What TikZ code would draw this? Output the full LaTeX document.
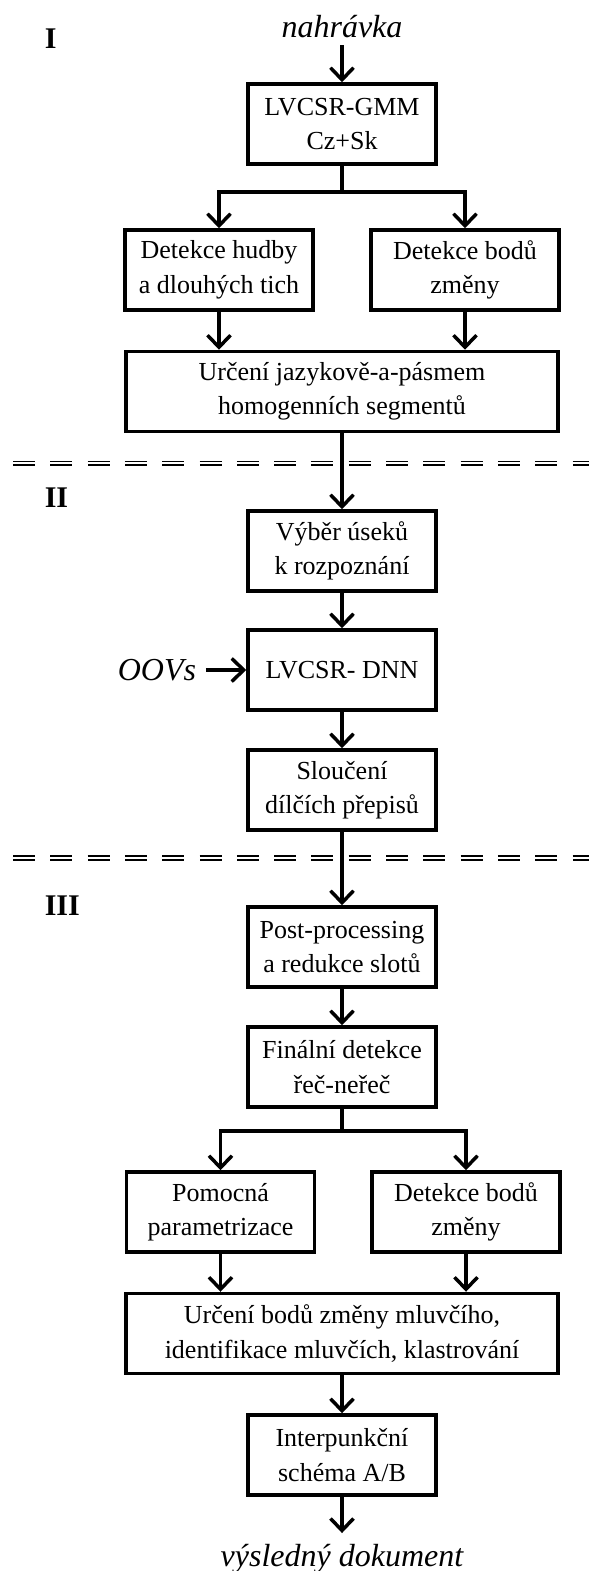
\documentclass[tikz,border=0pt]{standalone}
\usepackage{fontspec}
\setmainfont{Liberation Serif}
\usepackage{tikz}
\usetikzlibrary{positioning,arrows.meta}

\begin{document}
\begin{tikzpicture}[x=1pt,y=-1pt,on grid,line width=3.5pt,>={Straight Barb[length=12pt,width=23pt]}]
        \tikzstyle{blok}=[draw,rectangle,minimum width=188pt,minimum height=80pt,align=center,inner sep=2pt,font=\fontsize{26pt}{34.5pt}\selectfont]
        \tikzstyle{siroky}=[blok,minimum width=432pt]
        \tikzstyle{popis}=[font=\fontsize{32pt}{36pt}\selectfont\itshape]
        \tikzstyle{faze}=[anchor=west,inner sep=0pt,font=\fontsize{30pt}{30pt}\selectfont\bfseries]
        \tikzstyle{delic}=[line width=1.6pt,double,double distance=2.1pt,dash pattern=on 22pt off 15.3pt]
        \useasboundingbox (0,0) rectangle (589,1571);
        % faze
        \node[faze] (f1) at (43,38.5) {I};
        \node[faze] (f2) at (43,498) {II};
        \node[faze] (f3) at (43,906) {III};
        \draw[delic] (13,463.2) -- (589,463.2);
        \draw[delic] (13,858) -- (589,858);
        % bloky
        \node[popis,anchor=base,inner sep=5pt] (vstup) at (342,38) {nahrávka};
        \node[blok] (b1) at (342,124) {LVCSR-GMM\\Cz+Sk};
        \coordinate[below=68pt of b1] (s1);
        \node[blok] (b2L) [below left=146pt and 123pt of b1] {Detekce hudby\\a dlouhých tich};
        \node[blok] (b2R) [below right=146pt and 123pt of b1] {Detekce bodů\\změny};
        \node[siroky] (b3) [below=267.5pt of b1] {Určení jazykově-a-pásmem\\homogenních segmentů};
        \node[blok] (b4) [below=159.5pt of b3] {Výběr úseků\\k rozpoznání};
        \node[blok] (b5) [below=119pt of b4] {LVCSR- DNN};
        \node[popis,inner xsep=8pt] (oov) [left=185pt of b5] {OOVs};
        \node[blok] (b6) [below=120pt of b5] {Sloučení\\dílčích přepisů};
        \node[blok] (b7) [below=157pt of b6] {Post-processing\\a redukce slotů};
        \node[blok] (b8) [below=120pt of b7] {Finální detekce\\řeč-neřeč};
        \coordinate[below=64pt of b8] (s2);
        \node[blok] (b9L) [below left=145pt and 121.5pt of b8] {Pomocná\\parametrizace};
        \node[blok] (b9R) [below right=145pt and 124pt of b8] {Detekce bodů\\změny};
        \node[siroky] (b10) [below=266.5pt of b8] {Určení bodů změny mluvčího,\\identifikace mluvčích, klastrování};
        \node[blok] (b11) [below=121.5pt of b10] {Interpunkční\\schéma A/B};
        \node[popis,anchor=base,inner ysep=9pt] (vystup) at (342,1566) {výsledný dokument};
        % spoje
        \draw (b1) -- (s1);
        \draw[->] (s1) -| (b2L);
        \draw[->] (s1) -| (b2R);
        \draw (b8) -- (s2);
        \draw[->] (s2) -| (b9L);
        \draw[->] (s2) -| (b9R);
        \path[->]
        (vstup) edge (b1)
        (b2L) edge (b2L |- b3.north)
        (b2R) edge (b2R |- b3.north)
        (b3) edge (b4)
        (b4) edge (b5)
        (oov) edge (b5)
        (b5) edge (b6)
        (b6) edge (b7)
        (b7) edge (b8)
        (b9L) edge (b9L |- b10.north)
        (b9R) edge (b9R |- b10.north)
        (b10) edge (b11)
        (b11) edge (vystup);
    \end{tikzpicture}
\end{document}
